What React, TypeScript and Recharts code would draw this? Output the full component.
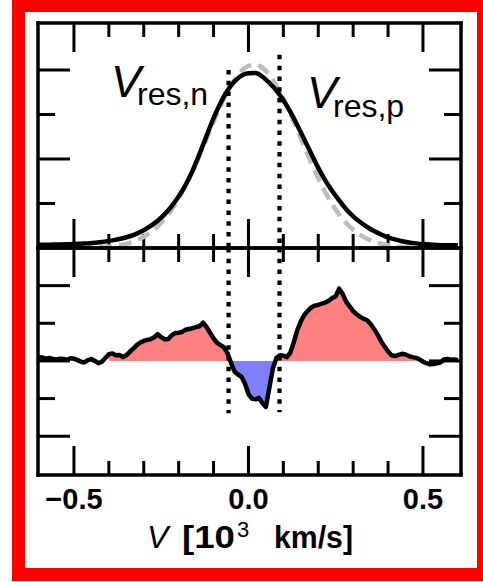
import React from "react";
import {
  ComposedChart,
  Line,
  Area,
  XAxis,
  YAxis,
  ReferenceLine,
} from "recharts";

// top panel: line profile (black) and gaussian fit (grey dashed)
const VELOCITY = [
  -0.6, -0.58, -0.56, -0.54, -0.52, -0.5, -0.48, -0.46, -0.44, -0.42, -0.4, -0.38, -0.36, -0.34, -0.32, -0.3,
  -0.28, -0.26, -0.24, -0.22, -0.2, -0.18, -0.16, -0.14, -0.12, -0.1, -0.08, -0.06, -0.04, -0.02, 0,
  0.02, 0.04, 0.06, 0.08, 0.1, 0.12, 0.14, 0.16, 0.18, 0.2, 0.22, 0.24, 0.26, 0.28, 0.3,
  0.32, 0.34, 0.36, 0.38, 0.4, 0.42, 0.44, 0.46, 0.48, 0.5, 0.52, 0.54, 0.56, 0.58, 0.6,
];
const PROFILE = [
  0.018, 0.018, 0.019, 0.02, 0.021, 0.022, 0.024, 0.026, 0.03, 0.034, 0.04, 0.047, 0.055, 0.066, 0.081, 0.1,
  0.124, 0.153, 0.19, 0.235, 0.29, 0.355, 0.435, 0.53, 0.63, 0.73, 0.815, 0.885, 0.935, 0.968, 0.982,
  0.983, 0.962, 0.927, 0.885, 0.83, 0.765, 0.69, 0.61, 0.53, 0.45, 0.38, 0.32, 0.268, 0.218, 0.178,
  0.146, 0.118, 0.095, 0.076, 0.06, 0.048, 0.038, 0.031, 0.026, 0.022, 0.019, 0.017, 0.016, 0.016, 0.015,
];
const GAUSS = [
  0, 0, 0, 0, 0, 0.001, 0.001, 0.002, 0.003, 0.005, 0.008, 0.013, 0.019, 0.029, 0.043, 0.063,
  0.088, 0.122, 0.164, 0.216, 0.279, 0.351, 0.433, 0.522, 0.615, 0.708, 0.798, 0.878, 0.946, 0.995, 1.023,
  1.03, 1.012, 0.973, 0.914, 0.84, 0.754, 0.663, 0.569, 0.477, 0.392, 0.314, 0.246, 0.188, 0.141, 0.103,
  0.074, 0.052, 0.036, 0.024, 0.016, 0.01, 0.006, 0.004, 0.002, 0.001, 0.001, 0, 0, 0, 0,
];

// bottom panel: residual
const RES_V = [
  -0.6, -0.59, -0.58, -0.57, -0.56, -0.55, -0.54, -0.53, -0.52, -0.51, -0.5, -0.49, -0.48, -0.47, -0.46, -0.45,
  -0.44, -0.43, -0.42, -0.41, -0.4, -0.39, -0.38, -0.37, -0.36, -0.35, -0.34, -0.33, -0.32, -0.31, -0.3,
  -0.29, -0.28, -0.27, -0.26, -0.25, -0.24, -0.23, -0.22, -0.21, -0.2, -0.19, -0.18, -0.17, -0.16, -0.15,
  -0.14, -0.13, -0.12, -0.11, -0.1, -0.09, -0.08, -0.07, -0.06, -0.05, -0.04, -0.03, -0.02, -0.01, 0,
  0.01, 0.02, 0.03, 0.04, 0.05, 0.06, 0.07, 0.08, 0.09, 0.1, 0.11, 0.12, 0.13, 0.14, 0.15,
  0.16, 0.17, 0.18, 0.19, 0.2, 0.21, 0.22, 0.23, 0.24, 0.25, 0.26, 0.27, 0.28, 0.29, 0.3,
  0.31, 0.32, 0.33, 0.34, 0.35, 0.36, 0.37, 0.38, 0.39, 0.4, 0.41, 0.42, 0.43, 0.44, 0.45,
  0.46, 0.47, 0.48, 0.49, 0.5, 0.51, 0.52, 0.53, 0.54, 0.55, 0.56, 0.57, 0.58, 0.59, 0.6,
];
const RESIDUAL = [
  0.1, 0.09, 0.06, 0.08, 0.05, 0.04, 0.06, 0.05, 0.03, 0.07, 0.06, 0.02, -0.02, -0.04, 0.02, 0.05,
  0, -0.06, -0.02, 0.08, 0.18, 0.2, 0.15, 0.16, 0.1, 0.15, 0.24, 0.33, 0.42, 0.49, 0.53,
  0.56, 0.58, 0.63, 0.71, 0.63, 0.57, 0.58, 0.68, 0.74, 0.75, 0.77, 0.83, 0.85, 0.87, 0.9,
  0.92, 1.02, 0.9, 0.75, 0.6, 0.48, 0.42, 0.36, 0.2, -0.05, -0.28, -0.36, -0.42, -0.6, -0.88,
  -1.0, -1.02, -0.98, -1.12, -1.22, -0.7, -0.2, 0.08, 0.15, 0.14, 0.1, 0.22, 0.5, 0.82, 1.05,
  1.22, 1.33, 1.42, 1.47, 1.49, 1.52, 1.55, 1.6, 1.67, 1.72, 1.92, 1.78, 1.57, 1.45, 1.32,
  1.24, 1.17, 1.12, 1.08, 0.98, 0.85, 0.7, 0.52, 0.38, 0.25, 0.15, 0.13, 0.16, 0.19, 0.17,
  0.13, 0.1, 0.08, 0.04, -0.02, -0.06, -0.09, -0.08, -0.06, -0.04, 0.04, 0.05, 0.03, 0.04, 0.02,
];
const FILL_FROM = -0.4;
const FILL_TO = 0.48;

// dotted markers: V_res,n and V_res,p
const V_RES_N = -0.057;
const V_RES_P = 0.089;

const X_MAJOR = [-0.5, 0, 0.5];
const X_MINOR = [-0.4, -0.3, -0.2, -0.1, 0.1, 0.2, 0.3, 0.4];
const X_TICKS = [...X_MAJOR, ...X_MINOR];
const X_DOMAIN = [-0.603, 0.609];
const TOP_DOMAIN = [0, 1.264];
const TOP_MAJOR = [0.5, 1];
const TOP_MINOR = [0.25, 0.75];
const BOT_DOMAIN = [-3.03, 3.0];
const BOT_MAJOR = [-2, 0, 2];
const BOT_MINOR = [-1, 1];

const FONT = '"Liberation Sans", Arial, sans-serif';
const frame = { stroke: "#000", strokeWidth: 3.5, strokeLinecap: "square" as const };
const tickStroke = { stroke: "#000", strokeWidth: 3 };
const fmt = (v: number) => (v < 0 ? `\u2212${Math.abs(v).toFixed(1)}` : v.toFixed(1));
const noLabel = () => <g />;

const profileRows = VELOCITY.map((v, i) => ({ v, profile: PROFILE[i], gauss: GAUSS[i] }));
const residualRows = RES_V.map((v, i) => ({
  v,
  r: RESIDUAL[i],
  fill: v >= FILL_FROM - 1e-9 && v <= FILL_TO + 1e-9 ? RESIDUAL[i] : null,
}));

const T = 0.01;
const MAJOR_LEN = 29;
const MINOR_LEN = 14;
const TOP_PLOT_H = 225;
const BOT_TOP = 12;
const BOT_PLOT_H = 227;

const tickLen = (v: number) => (X_MAJOR.includes(v) ? MAJOR_LEN : MINOR_LEN);

// x tick labels (majors only) from the bottom axis' tick renderer
const xLabel = (props: any) => {
  const x = Number(props.x);
  const y = Number(props.y);
  const v = props.payload.value;
  if (!X_MAJOR.includes(v)) return <g />;
  return (
    <text x={x} y={y + 33.5} textAnchor="middle" fontSize={29} fontWeight={700} fontFamily={FONT} fill="#000">
      {fmt(v)}
    </text>
  );
};

// inward x ticks as short two-point segments (bottom and top edge) in data units
const xTickSegments = (yDomain: number[], plotH: number) => {
  const perPx = (yDomain[1] - yDomain[0]) / plotH;
  return X_TICKS.flatMap((v) => [
    { key: `b${v}`, rows: [{ v, t: yDomain[0] }, { v, t: yDomain[0] + tickLen(v) * perPx }] },
    { key: `t${v}`, rows: [{ v, t: yDomain[1] }, { v, t: yDomain[1] - tickLen(v) * perPx }] },
  ]);
};
const TOP_TICK_SEGS = xTickSegments(TOP_DOMAIN, TOP_PLOT_H);
const BOT_TICK_SEGS = xTickSegments(BOT_DOMAIN, BOT_PLOT_H);

const tickLines = (segs: { key: string; rows: { v: number; t: number }[] }[]) =>
  segs.map((s) => (
    <Line key={s.key} xAxisId="b" yAxisId="l" data={s.rows} dataKey="t" type="linear" stroke="#000" strokeWidth={3} dot={false} activeDot={false} legendType="none" isAnimationActive={false} />
  ));

// frame lines and inward y ticks from mirrored axes
const frameAxes = (yDomain: number[], yMajor: number[], yMinor: number[]) => [
  <XAxis key="xb" xAxisId="b" dataKey="v" type="number" domain={X_DOMAIN} allowDataOverflow orientation="bottom" mirror height={T} ticks={[]} tick={noLabel} tickLine={false} axisLine={frame} />,
  <XAxis key="xt" xAxisId="t" dataKey="v" type="number" domain={X_DOMAIN} allowDataOverflow orientation="top" mirror height={T} ticks={[]} tick={noLabel} tickLine={false} axisLine={frame} />,
  <YAxis key="yl" yAxisId="l" type="number" domain={yDomain} allowDataOverflow orientation="left" mirror width={T} ticks={yMajor} interval={0} tickSize={32} tick={noLabel} tickLine={tickStroke} axisLine={frame} />,
  <YAxis key="ylm" yAxisId="lm" type="number" domain={yDomain} allowDataOverflow orientation="left" mirror width={T} ticks={yMinor} interval={0} tickSize={17} tick={noLabel} tickLine={tickStroke} axisLine={false} />,
  <YAxis key="yr" yAxisId="r" type="number" domain={yDomain} allowDataOverflow orientation="right" mirror width={T} ticks={yMajor} interval={0} tickSize={32} tick={noLabel} tickLine={tickStroke} axisLine={frame} />,
  <YAxis key="yrm" yAxisId="rm" type="number" domain={yDomain} allowDataOverflow orientation="right" mirror width={T} ticks={yMinor} interval={0} tickSize={17} tick={noLabel} tickLine={tickStroke} axisLine={false} />,
];

const dotted = { stroke: "#000", strokeWidth: 4.3, strokeDasharray: "4.5 6.3" };
const zeroOffset = BOT_DOMAIN[1] / (BOT_DOMAIN[1] - BOT_DOMAIN[0]);

export default function App() {
  return (
    <div style={{ position: "fixed", left: 0, top: 0, width: 483, height: 582, overflow: "hidden", background: "#fff", fontFamily: FONT }}>
      <div style={{ position: "absolute", left: 12, top: -1, width: 478, height: 582, border: "13px solid #ff0000", boxSizing: "border-box" }} />

      <div style={{ position: "absolute", left: 0, top: 0 }}>
        <ComposedChart width={483} height={260} data={profileRows} margin={{ top: 23, right: 22, bottom: 11, left: 38 }}>
          {frameAxes(TOP_DOMAIN, TOP_MAJOR, TOP_MINOR)}
          <XAxis xAxisId="lab" dataKey="v" type="number" domain={X_DOMAIN} allowDataOverflow orientation="bottom" height={1} ticks={X_TICKS} interval={0} tickSize={0} tickMargin={0} tickLine={false} axisLine={false} tick={noLabel} />
          {tickLines(TOP_TICK_SEGS)}
          <Line xAxisId="b" yAxisId="l" dataKey="gauss" type="monotone" stroke="#bdbdbd" strokeWidth={4.5} strokeDasharray="13 7" dot={false} activeDot={false} isAnimationActive={false} />
          <ReferenceLine xAxisId="b" yAxisId="l" segment={[{ x: V_RES_N, y: 1.0 }, { x: V_RES_N, y: 0 }]} {...dotted} />
          <ReferenceLine xAxisId="b" yAxisId="l" segment={[{ x: V_RES_P, y: 1.085 }, { x: V_RES_P, y: 0 }]} {...dotted} />
          <Line xAxisId="b" yAxisId="l" dataKey="profile" type="monotone" stroke="#000" strokeWidth={4.5} dot={false} activeDot={false} isAnimationActive={false} />
        </ComposedChart>
      </div>

      <div style={{ position: "absolute", left: 0, top: 236 }}>
        <ComposedChart width={483} height={346} data={residualRows} margin={{ top: BOT_TOP, right: 22, bottom: 47, left: 38 }}>
          <defs>
            <linearGradient id="resFill" gradientUnits="userSpaceOnUse" x1="0" y1={BOT_TOP} x2="0" y2={BOT_TOP + BOT_PLOT_H}>
              <stop offset={zeroOffset} stopColor="#ff8080" />
              <stop offset={zeroOffset} stopColor="#8080ff" />
            </linearGradient>
          </defs>
          {frameAxes(BOT_DOMAIN, BOT_MAJOR, BOT_MINOR)}
          <XAxis xAxisId="lab" dataKey="v" type="number" domain={X_DOMAIN} allowDataOverflow orientation="bottom" height={60} ticks={X_TICKS} interval={0} tickSize={0} tickMargin={0} tickLine={false} axisLine={false} tick={xLabel} />
          {tickLines(BOT_TICK_SEGS)}
          <Area xAxisId="b" yAxisId="l" dataKey="fill" type="linear" baseValue={0} stroke="none" fill="url(#resFill)" fillOpacity={1} connectNulls={false} dot={false} activeDot={false} isAnimationActive={false} />
          <ReferenceLine xAxisId="b" yAxisId="l" segment={[{ x: V_RES_N, y: 3.0 }, { x: V_RES_N, y: -1.39 }]} {...dotted} />
          <ReferenceLine xAxisId="b" yAxisId="l" segment={[{ x: V_RES_P, y: 3.0 }, { x: V_RES_P, y: -1.36 }]} {...dotted} />
          <Line xAxisId="b" yAxisId="l" dataKey="r" type="linear" stroke="#000" strokeWidth={4.5} strokeLinejoin="round" dot={false} activeDot={false} isAnimationActive={false} />
        </ComposedChart>
      </div>

      <svg style={{ position: "absolute", left: 0, top: 0, pointerEvents: "none" }} width={483} height={582} fontFamily={FONT}>
        <text x={111} y={97} fontSize={45} fontStyle="italic">V</text>
        <text x={137} y={105} fontSize={32}>res,n</text>
        <text x={307} y={108} fontSize={45} fontStyle="italic">V</text>
        <text x={333} y={117} fontSize={32}>res,p</text>
        <text x={147} y={548} fontSize={32} fontStyle="italic">V</text>
        <text x={182} y={548} fontSize={32} fontWeight={700} textLength={53} lengthAdjust="spacingAndGlyphs">[10</text>
        <text x={237} y={537} fontSize={22}>3</text>
        <text x={274} y={548} fontSize={32} fontWeight={700} textLength={79} lengthAdjust="spacingAndGlyphs">km/s]</text>
      </svg>
    </div>
  );
}
